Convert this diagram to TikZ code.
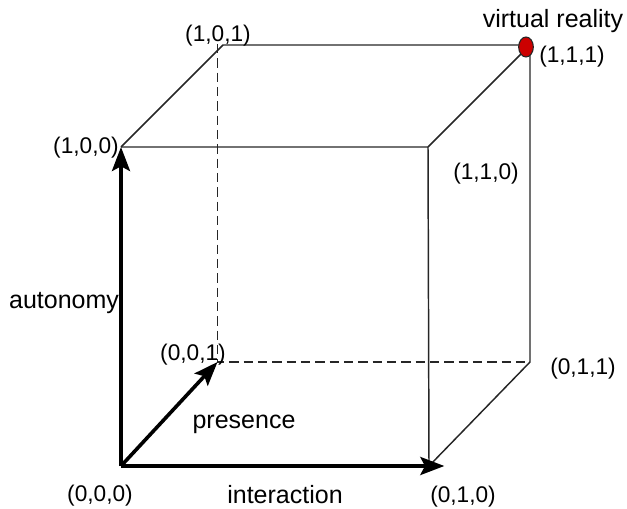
\documentclass[tikz,border=0pt]{standalone}
\usepackage{fontspec}
\setmainfont{Liberation Sans}
\usetikzlibrary{arrows.meta,shapes.geometric}
\begin{document}
\begin{tikzpicture}[x=0.75pt,y=-0.75pt,
  edge/.style={draw=black!85, line width=1.1pt},
  hidden/.style={edge, dash pattern=on 7pt off 3.75pt},
  axis/.style={draw=black, line width=2.7pt, line cap=butt,
    -{Stealth[length=18pt,width=13.5pt,inset=3.5pt]}},
  coordlbl/.style={font=\fontsize{17}{19}\selectfont, inner sep=0pt, anchor=base},
  axislbl/.style={font=\fontsize{18.75}{21}\selectfont, inner sep=0pt, anchor=base},
  vrdot/.style={draw=black!85, line width=0.8pt, fill=red!80!black, ellipse, minimum width=11pt, minimum height=15pt, inner sep=0pt}]
\useasboundingbox (0,0) rectangle (627,509);
% cube corners
\coordinate (c000) at (121,466);
\coordinate (c010) at (429,466);
\coordinate (c100) at (121,147);
\coordinate (c110) at (428,147);
\coordinate (c001) at (217.5,362);
\coordinate (c011) at (530,362);
\coordinate (c101) at (223,45);
\coordinate (c111) at (530,45);
\coordinate (d101) at (217.5,44);
% visible edges
\draw[edge] (c100) -- (c110) -- (c010);
\draw[edge] (c100) -- (c101) -- (c111) -- (c011) -- (c010);
\draw[edge] (c110) -- (c111);
% hidden edges
\draw[hidden] (d101) -- (c001) -- (c011);
% axes
\draw[axis] (c000) -- (c100);
\draw[axis, shorten >=-11.5pt] (c000) -- (c010);
\draw[axis] (c000) -- (c001);
% virtual reality dot
\node[vrdot] (vr) at (526,47) {};
% labels
\node[coordlbl] (l101) at (218,42) {(1,0,1)};
\node[coordlbl] (l100) at (86,154) {(1,0,0)};
\node[axislbl] (lvr) at (553,28) {virtual reality};
\node[coordlbl] (l111) at (572,63) {(1,1,1)};
\node[coordlbl] (l110) at (486,180) {(1,1,0)};
\node[axislbl] (laut) at (64,308) {autonomy};
\node[coordlbl] (l001) at (193,360) {(0,0,1)};
\node[axislbl] (lpre) at (244,428) {presence};
\node[coordlbl] (l000) at (100,501) {(0,0,0)};
\node[axislbl] (lint) at (285,503) {interaction};
\node[coordlbl] (l010) at (463,502) {(0,1,0)};
\node[coordlbl] (l011) at (583,374) {(0,1,1)};
\end{tikzpicture}
\end{document}
